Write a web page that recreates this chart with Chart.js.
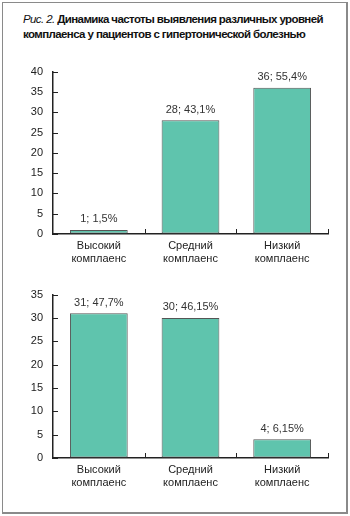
<!DOCTYPE html>
<html>
<head>
<meta charset="utf-8">
<script src="https://cdn.jsdelivr.net/npm/chart.js@4.4.1/dist/chart.umd.min.js"></script>
<style>
  html, body { margin: 0; padding: 0; background: #fff; }
  body { width: 350px; height: 516px; position: relative; overflow: hidden; font-family: "Liberation Sans", Arial, sans-serif; }
  .frame { position: absolute; left: 2px; top: 2px; width: 343px; height: 509px; border: 1px solid #8a8a8a; border-right-width: 2px; border-bottom-width: 2px; }
  .title { position: absolute; left: 23px; top: 12px; font-size: 11.5px; line-height: 15px; letter-spacing: -0.6px; font-weight: bold; color: #111; white-space: nowrap; }
  .title i { font-weight: normal; }
  canvas { position: absolute; left: 0; }
  #chartTop { top: 55px; }
  #chartBottom { top: 278px; }
</style>
</head>
<body>
<div class="frame"></div>
<div class="title"><i>Рис. 2.</i> Динамика частоты выявления различных уровней<br>комплаенса у пациентов с гипертонической болезнью</div>
<canvas id="chartTop" width="350" height="215"></canvas>
<canvas id="chartBottom" width="350" height="222"></canvas>
<script>
const categories = [['Высокий', 'комплаенс'], ['Средний', 'комплаенс'], ['Низкий', 'комплаенс']];

// first period
const countsTop = [1, 28, 36];
const percentsTop = ['1,5%', '43,1%', '55,4%'];

// second period
const countsBottom = [31, 30, 4];
const percentsBottom = ['47,7%', '46,15%', '6,15%'];

const axisColor = '#222';
const fontFamily = '"Liberation Sans", Arial, sans-serif';

// short inward tick marks on both axes
const innerTicks = {
    id: 'innerTicks',
    afterDraw(chart) {
        const ctx = chart.ctx;
        const x = chart.scales.x, y = chart.scales.y;
        const area = chart.chartArea;
        ctx.save();
        ctx.strokeStyle = axisColor;
        ctx.lineWidth = 1;
        y.ticks.forEach((t, i) => {
            const py = Math.round(y.getPixelForTick(i)) + 0.5;
            ctx.beginPath();
            ctx.moveTo(area.left, py);
            ctx.lineTo(area.left + 5, py);
            ctx.stroke();
        });
        for (let i = 1; i <= x.ticks.length; i++) {
            const px = Math.round(x.getPixelForValue(i - 0.5)) + 0.5;
            ctx.beginPath();
            ctx.moveTo(px, area.bottom);
            ctx.lineTo(px, area.bottom - 5);
            ctx.stroke();
        }
        ctx.restore();
    }
};

// "count; percent" above each bar
const valueLabels = {
    id: 'valueLabels',
    afterDatasetsDraw(chart) {
        const ctx = chart.ctx;
        const ds = chart.data.datasets[0];
        const meta = chart.getDatasetMeta(0);
        ctx.save();
        ctx.font = '11px ' + fontFamily;
        ctx.fillStyle = '#333';
        ctx.textAlign = 'center';
        ctx.textBaseline = 'bottom';
        meta.data.forEach((bar, i) => {
            ctx.fillText(ds.data[i] + '; ' + ds.percents[i], bar.x, bar.y - 5);
        });
        ctx.restore();
    }
};

function makeChart(id, counts, percents, yMax, padTop, xHeight) {
    return new Chart(document.getElementById(id), {
        type: 'bar',
        data: {
            labels: categories,
            datasets: [{
                data: counts,
                percents: percents,
                backgroundColor: '#5fc4ad',
                borderColor: '#555',
                borderWidth: 1,
                borderSkipped: false,
                barPercentage: 0.63,
                categoryPercentage: 1
            }]
        },
        options: {
            responsive: false,
            animation: false,
            layout: { padding: { top: padTop, right: 22, left: 0, bottom: 0 } },
            plugins: { legend: { display: false }, tooltip: { enabled: false } },
            scales: {
                x: {
                    grid: { display: true, drawOnChartArea: false, drawTicks: false },
                    border: { color: axisColor, width: 1.5 },
                    ticks: { color: '#222', padding: 5, font: { family: fontFamily, size: 11 } },
                    afterFit(scale) { scale.height = xHeight; }
                },
                y: {
                    min: 0,
                    max: yMax,
                    grid: { display: true, drawOnChartArea: false, drawTicks: false },
                    border: { color: axisColor, width: 1.5 },
                    ticks: { stepSize: 5, color: '#222', padding: 10, font: { family: fontFamily, size: 11 } },
                    afterFit(scale) { scale.width = 53; }
                }
            }
        },
        plugins: [innerTicks, valueLabels]
    });
}

makeChart('chartTop', countsTop, percentsTop, 40, 12, 36);
makeChart('chartBottom', countsBottom, percentsBottom, 35, 13, 42);
</script>
</body>
</html>
